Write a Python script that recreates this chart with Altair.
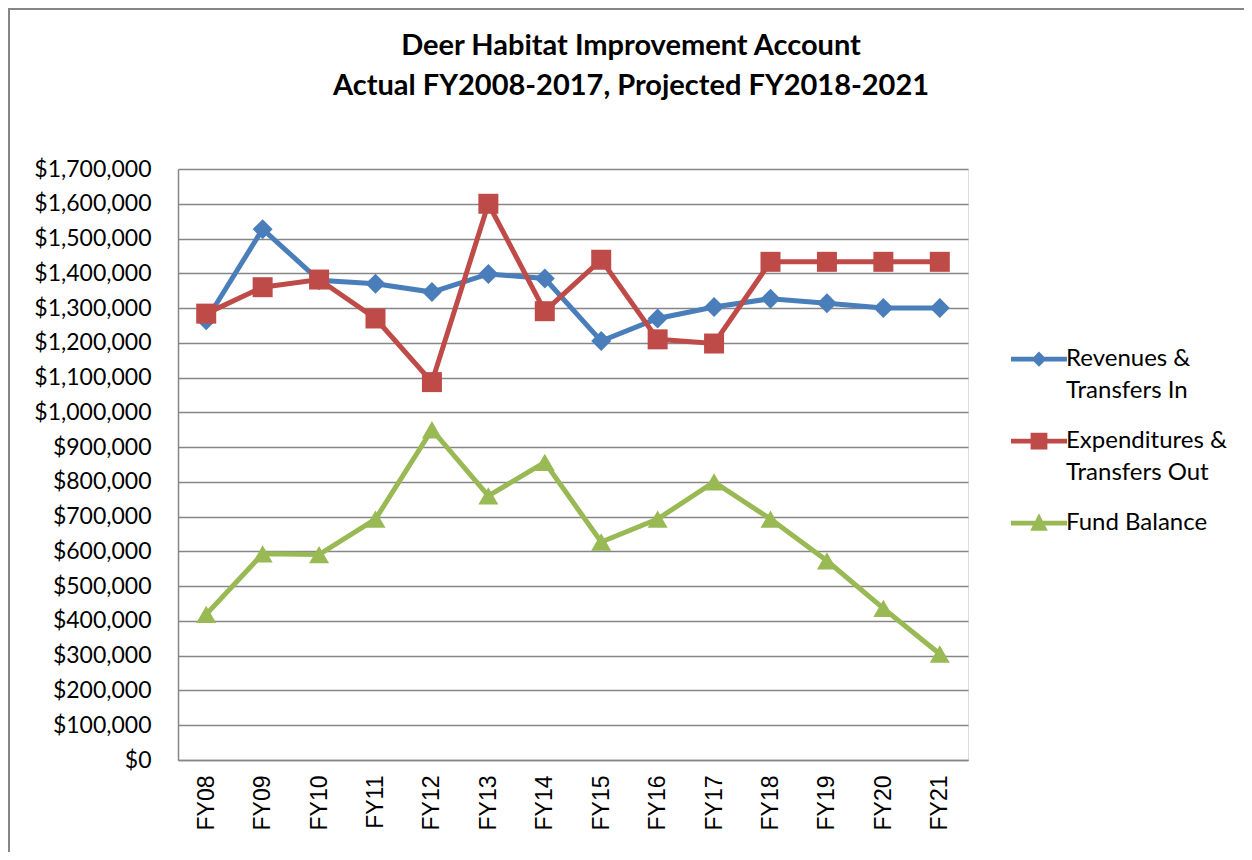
import altair as alt
import pandas as pd

years = ["FY08", "FY09", "FY10", "FY11", "FY12", "FY13", "FY14",
         "FY15", "FY16", "FY17", "FY18", "FY19", "FY20", "FY21"]
revenues = [1265000, 1527000, 1380000, 1370000, 1346000, 1398000, 1385000,
            1205000, 1270000, 1303000, 1327000, 1314000, 1300000, 1300000]
expenditures = [1284000, 1360000, 1382000, 1270000, 1087000, 1600000, 1291000,
                1439000, 1210000, 1198000, 1433000, 1433000, 1433000, 1433000]
fund_balance = [419000, 593000, 591000, 693000, 950000, 760000, 856000,
                627000, 693000, 800000, 693000, 573000, 436000, 305000]

series_names = ["Revenues & Transfers In", "Expenditures & Transfers Out", "Fund Balance"]
series_colors = ["#4A7EBB", "#BE4B48", "#98B954"]
series_shapes = ["diamond", "square", "triangle-up"]
y_ticks = list(range(0, 1700001, 100000))

rows = []
for name, vals in zip(series_names, [revenues, expenditures, fund_balance]):
    for yr, v in zip(years, vals):
        rows.append({"year": yr, "series": name, "value": v})
df = pd.DataFrame(rows)

# legend symbols: thick line with the marker in the middle (unit coords, shifted up)
DY = -0.85
def rect_path(dy):
    return f"M-3.5,{-0.3+dy} H3.5 V{0.3+dy} H-3.5 Z"

legend_paths = [
    rect_path(DY) + f" M0,{-0.95+DY} L0.95,{DY} L0,{0.95+DY} L-0.95,{DY} Z",
    rect_path(DY) + f" M-1.05,{-1.05+DY} H1.05 V{1.05+DY} H-1.05 Z",
    rect_path(DY) + f" M0,{-1.25+DY} L1.1,{0.95+DY} L-1.1,{0.95+DY} Z",
]

x_enc = alt.X("year:N", sort=years,
              scale=alt.Scale(type="band", paddingInner=0, paddingOuter=0),
              bandPosition=0.5,
              axis=alt.Axis(title=None, labelAngle=270, labelFont="Liberation Sans",
                            labelFontSize=23, labelColor="black", labelPadding=15,
                            ticks=False, domain=True, domainColor="#868686",
                            domainWidth=1.5, grid=False, tickBand="extent"))
y_enc = alt.Y("value:Q",
              scale=alt.Scale(domain=[0, 1700000], nice=False),
              axis=alt.Axis(title=None, values=y_ticks, format="$,.0f",
                            labelFont="Lato", labelFontSize=23, labelColor="black",
                            labelPadding=27, ticks=False, domain=True,
                            domainColor="#868686", domainWidth=1.5,
                            grid=True, gridColor="#868686", gridWidth=1.5))

base = alt.Chart(df)

lines = base.mark_line(strokeWidth=5).encode(
    x=x_enc, y=y_enc,
    color=alt.Color("series:N", scale=alt.Scale(domain=series_names, range=series_colors),
                    legend=None),
    detail="series:N",
)

points = base.mark_point(filled=True, size=400, opacity=1).encode(
    x=x_enc, y=y_enc,
    color=alt.Color("series:N", scale=alt.Scale(domain=series_names, range=series_colors),
                    legend=None),
    shape=alt.Shape("series:N", scale=alt.Scale(domain=series_names, range=series_shapes),
                    legend=None),
)

# legend-only layer: no marks drawn (filtered out), scales have explicit domains
legend_layer = base.transform_filter("datum.value < 0").mark_point(
    filled=True, size=10, opacity=1
).encode(
    x=x_enc, y=y_enc,
    color=alt.Color("series:N", scale=alt.Scale(domain=series_names, range=series_colors),
                    legend=alt.Legend(title=None, orient="none", legendX=849, legendY=185,
                                      symbolSize=256, symbolStrokeWidth=0, symbolOpacity=1,
                                      labelFont="Lato", labelFontSize=24, labelColor="black",
                                      labelBaseline="alphabetic",
                                      labelOffset=15, labelLimit=400, rowPadding=26,
                                      padding=0,
                                      labelExpr="indexof(datum.label, ' & ') > 0 ? [substring(datum.label, 0, indexof(datum.label, ' & ') + 2), substring(datum.label, indexof(datum.label, ' & ') + 3)] : datum.label")),
    shape=alt.Shape("series:N", scale=alt.Scale(domain=series_names, range=legend_paths)),
)

border = alt.Chart(pd.DataFrame({"a": [0]})).mark_rect(
    filled=False, stroke="#868686", strokeWidth=2
).encode(x=alt.value(-169), x2=alt.value(1067), y=alt.value(-160), y2=alt.value(720))

chart = alt.layer(border, lines, points, legend_layer).resolve_scale(
    color="independent", shape="independent"
).properties(
    width=790, height=591,
    autosize=alt.AutoSizeParams(type="none"),
    padding={"left": 170, "top": 161, "right": 276, "bottom": 92},
    title=alt.TitleParams(
        text=["Deer Habitat Improvement Account", "Actual FY2008-2017, Projected FY2018-2021"],
        font="Lato", fontSize=29, fontWeight="bold", color="black",
        anchor="middle", lineHeight=40, dx=58, dy=122, offset=0, baseline="bottom",
    ),
).configure_view(stroke=None).configure(
    background="white", style={"guide-label": {"lineHeight": 32}}
)

chart.save("out.html", embed_options={"renderer": "svg", "actions": False})
